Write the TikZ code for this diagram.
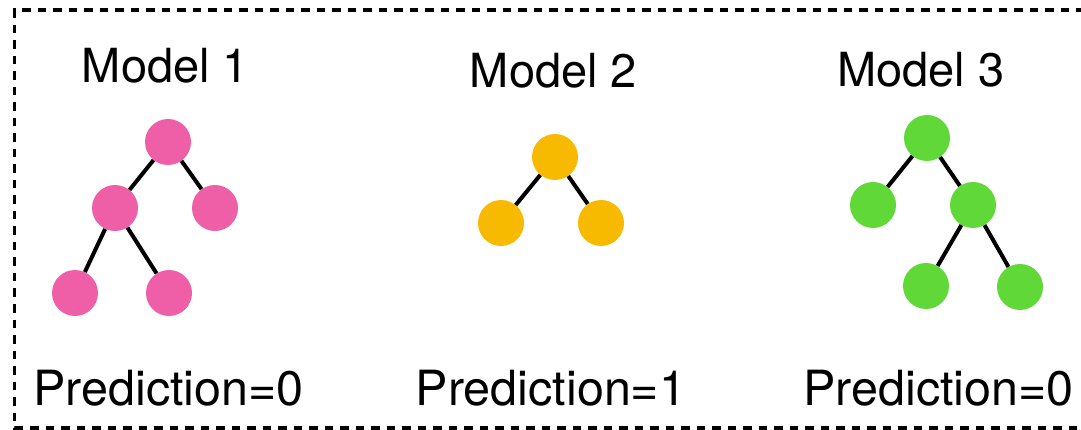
\documentclass[tikz,border=0pt]{standalone}
\usepackage{fontspec}
\setmainfont{TeX Gyre Heros}
\definecolor{treepink}{RGB}{239,95,167}
\definecolor{treeyellow}{RGB}{247,186,0}
\definecolor{treegreen}{RGB}{96,216,56}
\begin{document}
\begin{tikzpicture}[x=1pt,y=-1pt,
  leaf/.style={circle,inner sep=0pt,minimum size=46pt,draw=none},
  branch/.style={line width=4pt,black},
  title/.style={font=\fontsize{47}{50}\selectfont,anchor=base,inner sep=0pt},
  result/.style={font=\fontsize{48.5}{52}\selectfont,anchor=base,inner sep=0pt},
  frame/.style={line width=3.6pt,dash pattern=on 8.5pt off 7pt}]
\useasboundingbox (0,0) rectangle (1081,430);

% dashed frame, open on the right
\draw[frame] (1100,10) -- (14.5,10) -- (14.5,428) -- (1100,428);

% model 1
\node[title] (t1) at (165.5,83) {Model 1};
\node[leaf,fill=treepink] (p0) at (168,142) {};
\node[leaf,fill=treepink] (p1) at (115,208) {};
\node[leaf,fill=treepink] (p2) at (215,208) {};
\node[leaf,fill=treepink] (p3) at (75,293) {};
\node[leaf,fill=treepink] (p4) at (169,293) {};
\draw[branch] (p0) -- (p1);
\draw[branch] (p0) -- (p2);
\draw[branch] (p1) -- (p3);
\draw[branch] (p1) -- (p4);
\node[result] (r1) at (168.5,405) {Prediction=0};

% model 2
\node[title] (t2) at (553.5,88) {Model 2};
\node[leaf,fill=treeyellow] (y0) at (555,157) {};
\node[leaf,fill=treeyellow] (y1) at (501,223) {};
\node[leaf,fill=treeyellow] (y2) at (601,223) {};
\draw[branch] (y0) -- (y1);
\draw[branch] (y0) -- (y2);
\node[result] (r2) at (551,405) {Prediction=1};

% model 3
\node[title] (t3) at (921,87) {Model 3};
\node[leaf,fill=treegreen] (g0) at (927,138) {};
\node[leaf,fill=treegreen] (g1) at (873,205) {};
\node[leaf,fill=treegreen] (g2) at (973,205) {};
\node[leaf,fill=treegreen] (g3) at (926,286) {};
\node[leaf,fill=treegreen] (g4) at (1020,287) {};
\draw[branch] (g0) -- (g1);
\draw[branch] (g0) -- (g2);
\draw[branch] (g2) -- (g3);
\draw[branch] (g2) -- (g4);
\node[result] (r3) at (938.5,405) {Prediction=0};
\end{tikzpicture}
\end{document}
